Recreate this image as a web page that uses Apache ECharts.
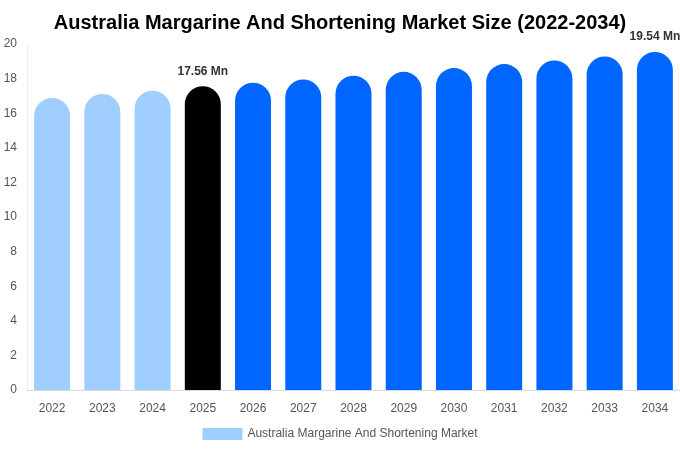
<!DOCTYPE html>
<html><head><meta charset="utf-8">
<script src="https://cdn.jsdelivr.net/npm/echarts@6/dist/echarts.min.js"></script>
<style>html,body{margin:0;padding:0;background:#fff}#c{width:680px;height:450px}</style>
</head><body><div id="c"></div>
<script>
const years = ['2022','2023','2024','2025','2026','2027','2028','2029','2030','2031','2032','2033','2034'];
const values = [16.88, 17.11, 17.30, 17.56, 17.76, 17.95, 18.17, 18.39, 18.61, 18.84, 19.05, 19.28, 19.54];
const yTicks = [0, 2, 4, 6, 8, 10, 12, 14, 16, 18, 20];
const seriesName = 'Australia Margarine And Shortening Market';
const labelledYears = ['2025', '2034'];

function colorFor(y) {
  const n = parseInt(y, 10);
  if (n < 2025) return '#a0cfff';
  if (n === 2025) return '#000000';
  return '#0066ff';
}

const chart = echarts.init(document.getElementById('c'));
chart.setOption({
  animation: false,
  textStyle: { fontFamily: 'Liberation Sans, Arial, sans-serif' },
  title: {
    text: 'Australia Margarine And Shortening Market Size (2022-2034)',
    left: 'center', top: 8,
    textStyle: { fontSize: 20, fontWeight: 'bold', color: '#000', fontFamily: 'Liberation Sans, Arial, sans-serif' }
  },
  legend: {
    bottom: 5, left: 'center',
    itemWidth: 40, itemHeight: 12, itemGap: 6,
    icon: 'rect',
    textStyle: { color: '#555', fontSize: 12 },
    data: [{ name: seriesName, itemStyle: { color: '#a0cfff' } }]
  },
  grid: { left: 27, right: 0, top: 44, bottom: 60 },
  xAxis: {
    type: 'category', data: years,
    axisLine: { lineStyle: { color: '#ddd' } },
    axisTick: { show: false },
    axisLabel: { color: '#555', fontSize: 12, margin: 13 }
  },
  yAxis: {
    type: 'value', min: yTicks[0], max: yTicks[yTicks.length - 1], interval: 2,
    axisLine: { show: true, lineStyle: { color: '#eee' } },
    axisTick: { show: false },
    splitLine: { show: false },
    axisLabel: { color: '#555', fontSize: 12, margin: 10 }
  },
  series: [{
    name: seriesName, type: 'bar', barWidth: 36,
    data: values.map((v, i) => ({
      value: v,
      itemStyle: { color: colorFor(years[i]), borderRadius: [18, 18, 0, 0] },
      label: {
        show: labelledYears.includes(years[i]), position: 'top', distance: 9,
        formatter: p => p.value.toFixed(2) + ' Mn',
        fontWeight: 'bold', fontSize: 12, color: '#333'
      }
    }))
  }]
});
</script></body></html>
